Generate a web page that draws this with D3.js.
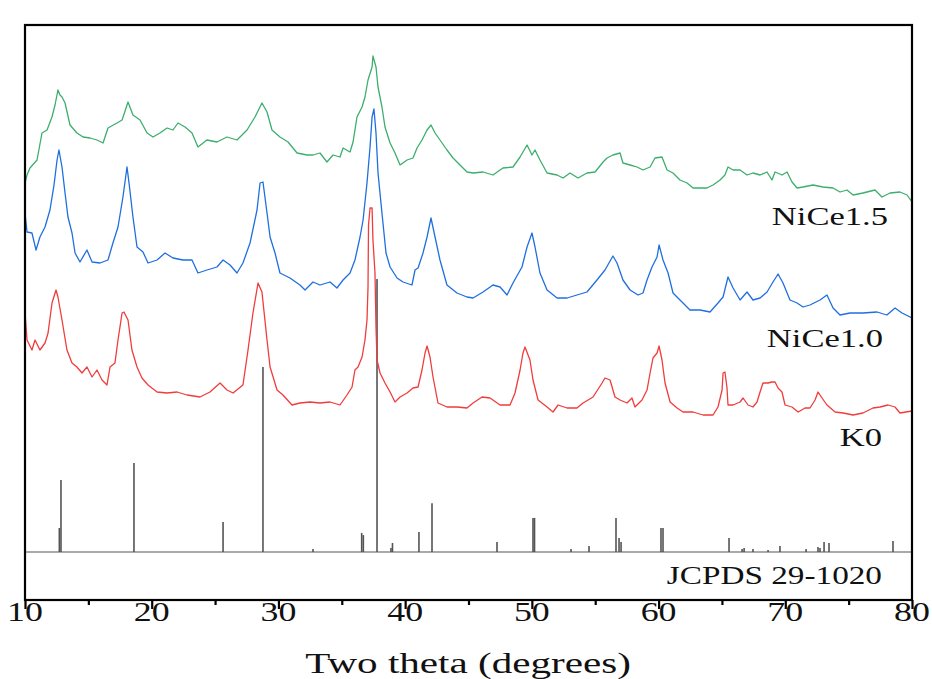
<!DOCTYPE html>
<html>
<head>
<meta charset="utf-8">
<script src="https://cdn.jsdelivr.net/npm/d3@7"></script>
<style>
  html, body { margin: 0; padding: 0; background: #ffffff; }
  svg { display: block; }
  text { font-family: "Liberation Serif", "Times New Roman", serif; fill: #111; }
</style>
</head>
<body>
<svg id="chart" width="932" height="679"></svg>
<script>
// ---------- DATA ----------
// 2θ (degrees) and stacked intensity (a.u.)
const nice15 = [
[10.00,417],[10.16,425],[10.39,432],[10.95,440],[11.34,467],[11.74,470],[12.13,483],[12.37,495],[12.60,510],[12.76,505],[12.92,503],[13.16,497],[13.55,475],[14.10,467],[14.58,463],[15.13,462],[15.68,460],[16.16,457],[16.55,472],[17.26,477],[17.66,480],[18.13,498],[18.52,485],[19.08,480],[19.63,467],[20.10,463],[20.65,467],[21.21,472],[21.68,470],[22.07,477],[22.63,473],[23.18,467],[23.65,453],[24.36,460],[25.15,458],[25.94,463],[26.73,460],[27.52,470],[28.15,483],[28.70,497],[29.10,488],[29.49,470],[30.12,463],[30.76,458],[31.47,447],[32.26,445],[32.73,445],[33.28,447],[33.83,438],[34.31,445],[34.86,443],[35.10,452],[35.65,448],[35.89,458],[36.20,483],[36.60,493],[36.83,503],[37.07,520],[37.39,533],[37.46,544],[37.70,533],[37.86,513],[38.17,493],[38.41,473],[38.81,457],[39.20,447],[39.60,435],[40.15,440],[40.62,442],[40.94,452],[41.33,460],[41.73,470],[42.04,475],[42.36,467],[42.75,460],[43.30,450],[43.78,442],[44.33,435],[44.88,428],[45.36,427],[46.15,428],[46.93,425],[47.72,432],[48.51,433],[49.07,443],[49.62,455],[50.01,445],[50.25,450],[50.64,440],[51.20,427],[51.99,425],[52.46,422],[53.01,427],[53.64,422],[54.35,427],[54.99,428],[55.62,438],[55.93,442],[56.40,445],[56.96,447],[57.19,437],[57.75,435],[58.30,433],[58.77,430],[59.33,433],[59.72,442],[60.27,443],[60.67,430],[61.14,427],[61.69,420],[62.25,417],[62.72,412],[63.27,412],[63.82,412],[64.30,415],[64.85,420],[65.24,425],[65.48,433],[65.88,430],[66.43,430],[66.98,425],[67.45,427],[68.01,425],[68.56,428],[68.95,420],[69.19,428],[69.74,425],[70.14,428],[70.53,418],[70.93,412],[71.40,413],[72.19,415],[72.98,413],[73.77,412],[74.32,408],[74.87,410],[75.35,405],[76.13,407],[77.08,410],[77.63,403],[78.27,407],[79.05,408],[79.61,405],[80.00,398]
];
const nice10 = [
[10.00,387],[10.16,368],[10.55,367],[10.87,350],[11.18,363],[11.58,373],[11.97,390],[12.29,415],[12.53,440],[12.68,450],[12.92,433],[13.16,407],[13.39,383],[13.71,367],[13.95,347],[14.34,338],[14.89,350],[15.29,338],[15.92,337],[16.55,340],[16.94,357],[17.34,373],[17.73,403],[18.05,433],[18.21,417],[18.52,383],[18.84,353],[19.31,348],[19.71,337],[20.42,340],[21.05,347],[21.68,342],[22.47,340],[23.18,340],[23.65,327],[24.36,330],[25.15,333],[25.63,340],[26.18,335],[26.73,327],[27.20,337],[27.76,357],[28.31,390],[28.55,417],[28.78,418],[29.10,387],[29.34,363],[29.73,347],[30.12,327],[30.91,322],[31.70,315],[32.10,310],[32.73,318],[33.28,315],[34.07,318],[34.62,312],[35.10,320],[35.65,327],[36.04,340],[36.44,363],[36.68,380],[36.99,417],[37.23,453],[37.39,483],[37.54,491],[37.70,467],[37.86,427],[38.17,387],[38.49,347],[38.81,333],[39.36,322],[39.83,318],[40.54,315],[40.78,330],[41.02,332],[41.41,347],[41.73,363],[42.04,382],[42.36,363],[42.75,340],[43.30,315],[44.09,307],[44.88,303],[45.36,302],[46.15,308],[46.93,315],[47.49,313],[48.04,305],[48.51,317],[49.22,333],[49.62,353],[50.01,367],[50.25,353],[50.64,327],[51.20,310],[51.99,302],[52.78,302],[53.56,305],[54.35,308],[55.14,320],[55.77,330],[56.40,344],[56.72,337],[57.19,320],[57.75,310],[58.38,305],[58.77,307],[59.09,320],[59.48,333],[59.88,343],[60.04,355],[60.35,340],[60.75,327],[61.14,307],[61.69,300],[62.48,290],[63.27,290],[64.06,288],[64.69,297],[65.09,303],[65.48,323],[65.88,312],[66.43,300],[66.98,308],[67.45,300],[68.01,302],[68.56,308],[69.03,318],[69.43,326],[69.82,317],[70.37,300],[70.93,297],[71.40,293],[71.95,295],[72.74,300],[73.29,305],[73.77,292],[74.32,285],[75.11,287],[76.13,287],[77.24,288],[78.02,285],[78.66,292],[79.21,287],[80.00,282]
];
const k0 = [
[10.00,288],[10.16,260],[10.55,250],[10.79,260],[11.18,250],[11.58,257],[11.82,267],[12.13,297],[12.45,310],[12.60,303],[12.92,280],[13.31,250],[13.71,237],[14.10,233],[14.50,227],[14.89,233],[15.29,223],[15.68,230],[16.08,220],[16.47,215],[16.71,233],[17.10,237],[17.34,260],[17.66,287],[17.81,288],[18.13,280],[18.44,250],[18.84,233],[19.23,222],[19.71,215],[20.42,208],[21.21,207],[22.00,208],[22.79,205],[23.81,203],[24.60,208],[25.39,217],[25.94,210],[26.42,207],[27.20,215],[27.60,250],[27.99,287],[28.39,317],[28.70,308],[29.10,260],[29.34,233],[29.89,210],[30.36,205],[31.07,195],[31.70,197],[32.49,198],[33.28,197],[34.07,198],[34.86,195],[35.41,205],[35.81,213],[36.04,230],[36.28,233],[36.60,243],[36.83,260],[36.99,280],[37.07,313],[37.11,375],[37.23,392],[37.39,392],[37.46,360],[37.62,327],[37.70,273],[37.78,240],[38.02,227],[38.41,217],[38.81,208],[39.20,198],[39.60,203],[40.15,207],[40.62,212],[41.02,213],[41.33,230],[41.57,247],[41.73,254],[41.96,243],[42.20,223],[42.59,197],[43.30,193],[44.09,193],[44.88,192],[45.36,197],[46.07,203],[46.70,202],[47.49,195],[48.28,195],[48.67,207],[49.07,230],[49.30,247],[49.46,253],[49.85,240],[50.09,220],[50.49,200],[51.20,193],[51.67,188],[52.07,195],[52.78,192],[53.56,192],[54.04,197],[54.83,203],[55.54,217],[55.77,222],[56.17,220],[56.56,203],[56.96,200],[57.51,197],[57.90,202],[58.14,193],[58.69,200],[59.09,210],[59.33,227],[59.56,242],[59.88,247],[60.04,254],[60.27,240],[60.51,217],[60.91,198],[61.46,192],[61.93,188],[62.72,188],[63.51,185],[64.30,185],[64.69,193],[65.01,210],[65.09,227],[65.24,228],[65.40,212],[65.48,195],[65.88,195],[66.43,198],[66.67,202],[67.06,195],[67.45,193],[67.77,198],[68.01,208],[68.24,217],[68.64,217],[68.95,218],[69.19,218],[69.43,212],[69.74,208],[69.98,195],[70.53,193],[71.01,188],[71.56,192],[71.95,192],[72.35,200],[72.58,208],[72.90,202],[73.29,195],[73.93,188],[74.56,187],[75.35,185],[76.13,187],[76.92,192],[77.48,193],[78.11,195],[78.66,193],[79.05,187],[80.00,189]
];
// JCPDS 29-1020 reference pattern: 2θ and relative intensity (%)
const jcpdsPos = [12.71,12.84,18.60,25.63,28.78,32.73,36.57,36.70,37.78,38.88,39.00,41.09,42.12,47.25,50.09,50.21,53.09,54.51,56.64,56.88,57.04,60.19,60.35,65.56,66.59,66.75,67.45,68.64,69.58,71.64,72.58,72.74,73.06,73.45,78.50];
const jcpdsInt = [8.8,26.4,32.6,11.0,67.8,1.1,7.0,6.2,100,1.5,3.3,7.3,17.9,3.7,12.5,12.5,1.1,2.2,12.5,5.1,3.7,8.8,8.8,5.1,1.1,1.5,1.1,0.7,2.2,1.1,1.8,1.5,3.7,3.3,4.0];

const seriesNames = ["NiCe1.5", "NiCe1.0", "K0"];
const seriesColors = ["#3cae6e", "#1f6fe0", "#f03c3c"];
const xTicks = [10, 20, 30, 40, 50, 60, 70, 80];
const xMinorTicks = [15, 25, 35, 45, 55, 65, 75];
const xTitle = "Two theta (degrees)";
const refLabel = "JCPDS 29-1020";

// ---------- LAYOUT ----------
const svg = d3.select("#chart");
const L = 25, R = 912, T = 25, B = 600, stickBase = 552;
const SX = 1.33; // horizontal text stretch of the original figure

const x = d3.scaleLinear().domain([10, 80]).range([L, R]);
const y = d3.scaleLinear().domain([0, 575]).range([B, T]);
const yStick = d3.scaleLinear().domain([0, 100]).range([stickBase, 279]);

svg.append("defs").append("clipPath").attr("id", "clip")
  .append("rect").attr("x", L).attr("y", T).attr("width", R - L).attr("height", B - T);

const plot = svg.append("g").attr("clip-path", "url(#clip)");

// reference baseline
plot.append("line")
  .attr("x1", L).attr("x2", R).attr("y1", stickBase).attr("y2", stickBase)
  .attr("stroke", "#8c8c8c").attr("stroke-width", 1.6);

// sticks
plot.append("g").selectAll("line").data(jcpdsPos.map((p, i) => [p, jcpdsInt[i]]))
  .join("line")
  .attr("x1", d => x(d[0])).attr("x2", d => x(d[0]))
  .attr("y1", yStick(0)).attr("y2", d => yStick(d[1]))
  .attr("stroke", "#545454").attr("stroke-width", 1.6);

// curves
const line = d3.line().x(d => x(d[0])).y(d => y(d[1]));
[nice15, nice10, k0].forEach((s, i) => {
  plot.append("path").datum(s)
    .attr("d", line)
    .attr("fill", "none")
    .attr("stroke", seriesColors[i])
    .attr("stroke-width", 1.3)
    .attr("stroke-linejoin", "round");
});

// frame
svg.append("rect").attr("x", L).attr("y", T).attr("width", R - L).attr("height", B - T)
  .attr("fill", "none").attr("stroke", "#000").attr("stroke-width", 2.2);

// x axis
const xAxis = d3.axisBottom(x).tickValues(xTicks).tickSize(9).tickFormat("");
const gx = svg.append("g").attr("transform", `translate(0,${B})`).call(xAxis);
gx.select(".domain").remove();
gx.selectAll(".tick line").attr("stroke", "#000").attr("stroke-width", 2.2);
const gxm = svg.append("g").attr("transform", `translate(0,${B})`)
  .call(d3.axisBottom(x).tickValues(xMinorTicks).tickSize(5).tickFormat(""));
gxm.select(".domain").remove();
gxm.selectAll(".tick line").attr("stroke", "#000").attr("stroke-width", 2.2);

// tick labels
svg.append("g").selectAll("text").data(xTicks).join("text")
  .attr("transform", d => `translate(${x(d)},621) scale(${SX},1)`)
  .attr("text-anchor", "middle")
  .attr("font-size", 27)
  .text(d => d);

// axis title
svg.append("text")
  .attr("transform", `translate(${(303 + 633) / 2},673) scale(${SX * 1.03},1)`)
  .attr("text-anchor", "middle")
  .attr("font-size", 30)
  .text(xTitle);

// series labels
const labelPos = [[888, 225], [883, 347], [882, 446]];
seriesNames.forEach((n, i) => {
  svg.append("text")
    .attr("transform", `translate(${labelPos[i][0]},${labelPos[i][1]}) scale(${SX},1)`)
    .attr("text-anchor", "end")
    .attr("font-size", 26)
    .text(n);
});
svg.append("text")
  .attr("transform", `translate(882,584) scale(${SX},1)`)
  .attr("text-anchor", "end")
  .attr("font-size", 25)
  .text(refLabel);
</script>
</body>
</html>
